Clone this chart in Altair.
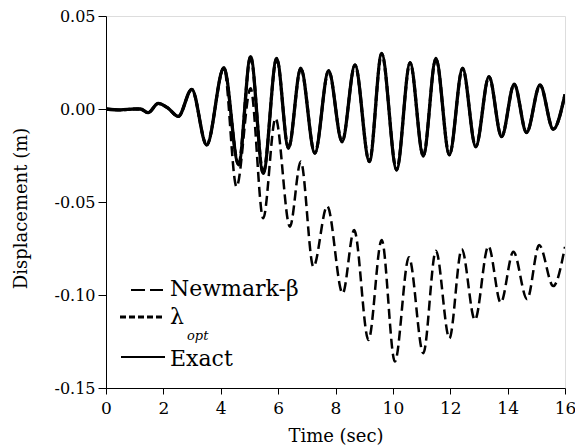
import altair as alt
import pandas as pd

# ---- data ----
exact_t = [0.0, 0.5, 1.0, 1.2, 1.47, 1.82, 2.16, 2.52, 2.99, 3.51, 4.11, 4.62, 5.04, 5.48,
           5.95, 6.36, 6.79, 7.28, 7.76, 8.23, 8.68, 9.18, 9.61, 10.13, 10.60, 11.06,
           11.50, 11.97, 12.43, 12.89, 13.35, 13.79, 14.23, 14.66, 15.13, 15.59, 16.0]
exact_u = [0.0, -0.0005, 0.0, 0.0, -0.002, 0.003, 0.0005, -0.004, 0.0106, -0.0194, 0.0222,
           -0.0300, 0.0281, -0.0346, 0.0272, -0.0211, 0.0219, -0.0238, 0.0206, -0.0176,
           0.0237, -0.0283, 0.0299, -0.0328, 0.0249, -0.0253, 0.0272, -0.0247, 0.0219,
           -0.0203, 0.0174, -0.0149, 0.0133, -0.0127, 0.0129, -0.0109, 0.0079]

lam_t = [0.0, 0.5, 1.0, 1.2, 1.47, 1.82, 2.16, 2.52, 2.99, 3.51, 4.11, 4.62, 5.04, 5.48,
         5.95, 6.36, 6.79, 7.28, 7.76, 8.23, 8.68, 9.18, 9.61, 10.13, 10.60, 11.06,
         11.50, 11.97, 12.43, 12.89, 13.35, 13.79, 14.23, 14.66, 15.13, 15.59, 16.0]
lam_u = [0.0, -0.0005, 0.0, 0.0, -0.002, 0.003, 0.0005, -0.004, 0.0105, -0.0193, 0.0221,
         -0.0298, 0.0280, -0.0344, 0.0271, -0.0210, 0.0218, -0.0237, 0.0205, -0.0175,
         0.0236, -0.0282, 0.0297, -0.0326, 0.0248, -0.0252, 0.0270, -0.0246, 0.0218,
         -0.0202, 0.0173, -0.0148, 0.0132, -0.0126, 0.0128, -0.0108, 0.0078]

newmark_t = [0.0, 0.5, 1.0, 1.2, 1.47, 1.82, 2.16, 2.52, 2.99, 3.51, 4.11, 4.55, 5.04, 5.48,
             5.91, 6.41, 6.79, 7.23, 7.71, 8.25, 8.65, 9.15, 9.61, 10.07, 10.56, 11.06,
             11.50, 11.97, 12.40, 12.86, 13.33, 13.76, 14.20, 14.68, 15.10, 15.59, 16.0]
newmark_u = [0.0, -0.0005, 0.0, 0.0, -0.002, 0.003, 0.0005, -0.004, 0.0106, -0.0194, 0.0222,
             -0.0418, 0.0111, -0.0588, -0.0050, -0.0633, -0.0282, -0.0848, -0.0522, -0.0991,
             -0.0651, -0.1242, -0.0704, -0.1358, -0.0797, -0.1313, -0.0762, -0.1233, -0.0754,
             -0.1134, -0.0737, -0.1041, -0.0767, -0.1023, -0.0731, -0.0952, -0.0740]

x_ticks = [0, 2, 4, 6, 8, 10, 12, 14, 16]
y_ticks = [-0.15, -0.10, -0.05, 0.00, 0.05]
legend_labels = ["Newmark-β", "λ", "Exact"]
legend_sub = ["opt"]

FONT = "DejaVu Serif"
W, H = 459, 372

xs = alt.Scale(domain=[0, 16], nice=False, zero=False)
ys = alt.Scale(domain=[-0.15, 0.05], nice=False, zero=False)

xaxis = alt.Axis(values=x_ticks, title="Time (sec)", grid=False, tickSize=6, labelPadding=6,
                 domainColor="black", tickColor="black", labelColor="black",
                 labelFont=FONT, labelFontSize=17, labelFlush=False,
                 titleFont=FONT, titleFontSize=18, titleFontWeight="normal", titleColor="black",
                 titleBaseline="alphabetic", titleY=53)
yaxis = alt.Axis(values=y_ticks, title="Displacement (m)", grid=False, tickSize=8, labelPadding=3,
                 domainColor="black", tickColor="black", labelColor="black",
                 labelFont=FONT, labelFontSize=16, labelFlush=False,
                 labelExpr="datum.value < 0 ? '-' + format(-datum.value, '.2f') : format(datum.value, '.2f')",
                 titleFont=FONT, titleFontSize=18, titleFontWeight="normal", titleColor="black",
                 titleX=-76, titleY=192)


def series(t, u, width, dash=None):
    df = pd.DataFrame({"t": t, "u": u})
    kw = dict(color="black", strokeWidth=width, interpolate="monotone", clip=True)
    if dash:
        kw["strokeDash"] = dash
    return alt.Chart(df).mark_line(**kw).encode(
        x=alt.X("t:Q", scale=xs, axis=xaxis),
        y=alt.Y("u:Q", scale=ys, axis=yaxis),
    )


one = pd.DataFrame({"k": [0]})


def leg_rule(x1, x2, y, width, dash=None):
    kw = dict(color="black", strokeWidth=width)
    if dash:
        kw["strokeDash"] = dash
    return alt.Chart(one).mark_rule(**kw).encode(
        x=alt.value(x1), x2=alt.value(x2), y=alt.value(y))


def leg_text(label, x, y, size, style="normal"):
    return alt.Chart(pd.DataFrame({"label": [label]})).mark_text(
        align="left", baseline="middle", font=FONT, fontSize=size, fontStyle=style,
        color="black").encode(x=alt.value(x), y=alt.value(y), text="label:N")


layers = [
    series(newmark_t, newmark_u, 2.5, [10, 5]),
    series(exact_t, exact_u, 3.3),
    series(lam_t, lam_u, 3, [6, 3]),
    leg_rule(25, 57, 274, 2, [14, 5]),
    leg_rule(14, 57, 301, 3, [6, 3]),
    leg_rule(15, 59, 341, 2),
    leg_text(legend_labels[0], 64, 273, 22),
    leg_text(legend_labels[1], 64, 301, 22),
    leg_text(legend_sub[0], 81, 320, 13, "italic"),
    leg_text(legend_labels[2], 64, 343, 22),
]

chart = alt.layer(*layers).properties(
    width=W, height=H,
    autosize=alt.AutoSizeParams(type="none"),
    padding={"left": 98, "top": 8, "right": 10, "bottom": 58},
).configure_view(stroke="black", strokeWidth=1).configure(background="white")

chart.save("out.html", embed_options={"renderer": "svg", "actions": False})
